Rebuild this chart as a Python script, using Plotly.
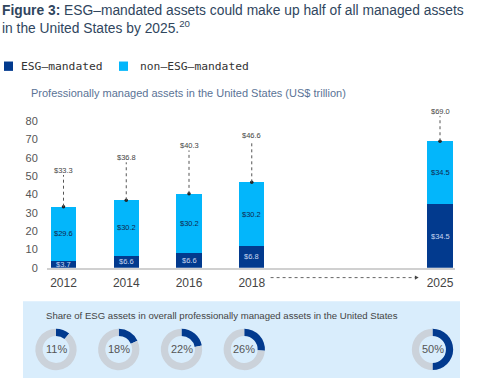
import plotly.graph_objects as go

# ---- data ----
years = ["2012", "2014", "2016", "2018", "2025"]
year_pos = [0, 1, 2, 3, 6]
esg = [3.7, 6.6, 8.3, 11.8, 34.5]
totals = [33.3, 36.8, 40.3, 46.6, 69.0]
non_esg = [round(t - e, 1) for t, e in zip(totals, esg)]
esg_labels = ["$3.7", "$6.6", "$6.6", "$6.8", "$34.5"]
non_labels = ["$29.6", "$30.2", "$30.2", "$30.2", "$34.5"]
total_labels = ["$33.3", "$36.8", "$40.3", "$46.6", "$69.0"]
share = [11, 18, 22, 26, 50]
y_ticks = [0, 10, 20, 30, 40, 50, 60, 70, 80]

# ---- layout constants ----
W, H = 481, 384
DARK = "#023a8e"
LIGHT = "#03b6fb"
GRAY_RING = "#cbd2da"
callout_y = [53.2, 60.1, 66.6, 72.0, 85.4]  # label heights (layout)

x0_px, px_per_x = 63.5, 62.75
y0_px, px_per_y = 272.0, 1.8625
x_range = [(47 - x0_px) / px_per_x, (455 - x0_px) / px_per_x]
y_range = [0, 92]
y_dom = [(H - y0_px) / H, (H - (y0_px - y_range[1] * px_per_y)) / H]


def px(x):
    return x / W


def py(y):
    return 1 - y / H


fig = go.Figure()
fig.add_trace(go.Bar(x=year_pos, y=esg, marker=dict(color=DARK, line=dict(width=0)),
                     width=0.4, name="ESG–mandated", hoverinfo="skip"))
fig.add_trace(go.Bar(x=year_pos, y=non_esg, marker=dict(color=LIGHT, line=dict(width=0)),
                     width=0.4, name="non–ESG–mandated", hoverinfo="skip"))
# dots at bar tops
fig.add_trace(go.Scatter(x=year_pos, y=totals, mode="markers",
                         marker=dict(size=3.5, color="#222"), hoverinfo="skip",
                         cliponaxis=False))

annotations = []
shapes = []
for i, xp in enumerate(year_pos):
    annotations.append(dict(x=xp, y=esg[i] / 2, xref="x", yref="y", text=esg_labels[i],
                            xanchor="center", yanchor="middle",
                            showarrow=False, font=dict(size=7.5, color="#c9d8f2",
                                                       family="Liberation Sans")))
    annotations.append(dict(x=xp, y=esg[i] + non_esg[i] / 2, xref="x", yref="y",
                            text=non_labels[i], showarrow=False,
                            xanchor="center", yanchor="middle",
                            font=dict(size=7.5, color="#10294f", family="Liberation Sans")))
    annotations.append(dict(x=xp, y=callout_y[i], xref="x", yref="y", text=total_labels[i],
                            xanchor="center", yanchor="middle",
                            showarrow=False, font=dict(size=7.5, color="#444",
                                                       family="Liberation Sans")))
    shapes.append(dict(type="line", xref="x", yref="y", x0=xp, x1=xp,
                       y0=totals[i], y1=callout_y[i] - 2.6,
                       line=dict(color="#555", width=1, dash="dot")))

# dotted arrow between 2018 and 2025
ay = py(282)
shapes.append(dict(type="line", xref="x", yref="paper", x0=3.3, x1=5.6,
                   y0=ay, y1=ay, line=dict(color="#666", width=1, dash="dot")))
hx, hdx, hdy = 5.6, 0.06, 2.2 / H
shapes.append(dict(type="path", xref="x", yref="paper",
                   path=f"M {hx},{ay + hdy} L {hx + hdx},{ay} L {hx},{ay - hdy} Z",
                   fillcolor="#444", line=dict(width=0)))

# title (two lines in one text block)
TITLE_C = "#30465e"
annotations.append(dict(x=px(0), y=py(1), xref="paper", yref="paper", xanchor="left",
                        yanchor="top", align="left", showarrow=False,
                        text="<b>Figure 3:</b> ESG–mandated assets could make up half of all managed assets"
                             "<br>in the United States by 2025.<sup>20</sup>",
                        font=dict(size=13.8, color=TITLE_C, family="Liberation Sans")))

# legend
shapes.append(dict(type="rect", xref="paper", yref="paper", x0=px(4), x1=px(13),
                   y0=py(72), y1=py(62.5), fillcolor=DARK, line=dict(width=0)))
shapes.append(dict(type="rect", xref="paper", yref="paper", x0=px(119), x1=px(128),
                   y0=py(72), y1=py(62.5), fillcolor=LIGHT, line=dict(width=0)))
annotations.append(dict(x=px(19), y=py(67.5), xref="paper", yref="paper", xanchor="left",
                        yanchor="middle", showarrow=False, text="ESG–mandated",
                        font=dict(size=11.3, color="#333", family="DejaVu Sans Mono")))
annotations.append(dict(x=px(138), y=py(67.5), xref="paper", yref="paper", xanchor="left",
                        yanchor="middle", showarrow=False, text="non–ESG–mandated",
                        font=dict(size=11.3, color="#333", family="DejaVu Sans Mono")))

# subtitle
annotations.append(dict(x=px(29), y=py(94), xref="paper", yref="paper", xanchor="left",
                        yanchor="middle", showarrow=False,
                        text="Professionally managed assets in the United States (US$ trillion)",
                        font=dict(size=11, color="#5a7396", family="Liberation Sans")))

# donut panel
shapes.append(dict(type="rect", xref="paper", yref="paper", x0=px(23), x1=px(460),
                   y0=0, y1=py(306), fillcolor="#d9edfc", line=dict(width=0), layer="below"))
annotations.append(dict(x=px(44), y=py(320), xref="paper", yref="paper", xanchor="left",
                        yanchor="middle", showarrow=False,
                        text="Share of ESG assets in overall professionally managed assets in the United States",
                        font=dict(size=9.6, color="#444", family="Liberation Sans")))

R = 21
cy = 355
for i, xp in enumerate(year_pos):
    cx = x0_px + px_per_x * xp - 7.5
    fig.add_trace(go.Pie(values=[share[i], 100 - share[i]], sort=False, direction="clockwise",
                         rotation=0, hole=0.65, textinfo="none", hoverinfo="skip",
                         marker=dict(colors=[DARK, GRAY_RING], line=dict(width=0)),
                         domain=dict(x=[px(cx - R), px(cx + R)], y=[py(cy + R), py(cy - R)]),
                         showlegend=False))
    annotations.append(dict(x=px(cx), y=py(cy), xref="paper", yref="paper", showarrow=False,
                            xanchor="center", yanchor="middle",
                            text=f"{share[i]}%",
                            font=dict(size=11, color="#555", family="Liberation Sans")))

fig.update_layout(
    width=W, height=H, margin=dict(l=0, r=0, t=0, b=0),
    paper_bgcolor="white", plot_bgcolor="white",
    barmode="stack", showlegend=False,
    xaxis=dict(domain=[px(47), px(455)], range=x_range, tickvals=year_pos, ticktext=years,
               showgrid=False, zeroline=False, showline=True, linecolor="#d0d0d0",
               linewidth=2, ticks="outside", ticklen=3, tickcolor="rgba(0,0,0,0)",
               tickfont=dict(size=12, color="#444", family="Liberation Sans"), fixedrange=True),
    yaxis=dict(domain=y_dom, range=y_range, tickvals=y_ticks, showgrid=False, zeroline=False,
               showline=False, ticks="outside", ticklen=6, tickcolor="rgba(0,0,0,0)",
               tickfont=dict(size=11, color="#555", family="Liberation Sans"), fixedrange=True),
    shapes=shapes, annotations=annotations,
)

fig.write_html("out.html", config={"displayModeBar": False},
               post_script="document.body.style.margin='0';")
